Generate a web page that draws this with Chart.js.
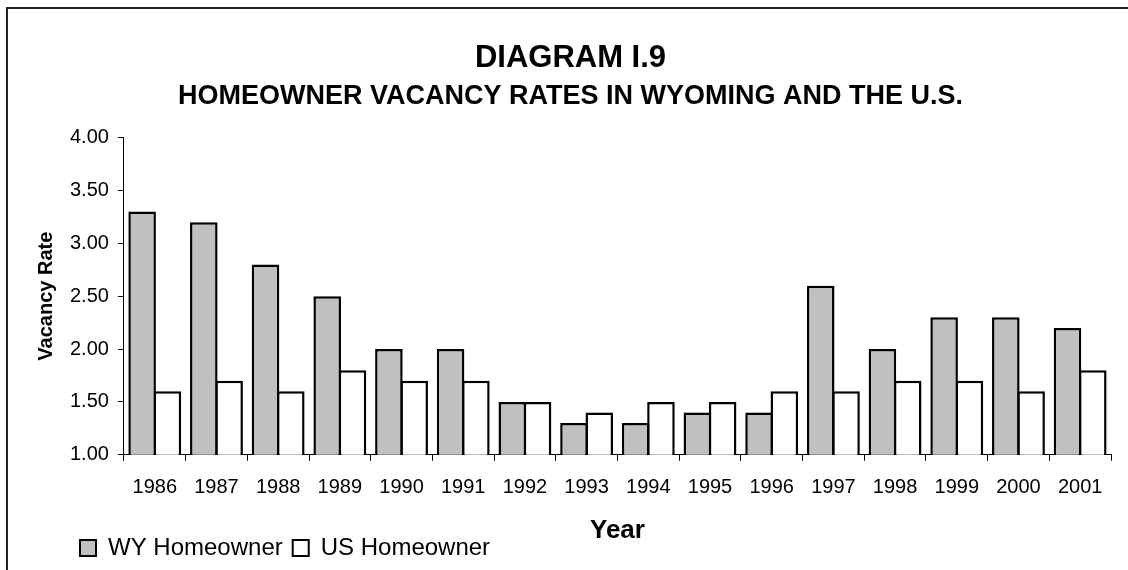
<!DOCTYPE html>
<html>
<head>
<meta charset="utf-8">
<script src="https://cdn.jsdelivr.net/npm/chart.js@4.4.0/dist/chart.umd.min.js"></script>
<style>
  html, body { margin: 0; padding: 0; background: #fff; }
  #wrap { position: relative; width: 1128px; height: 570px; overflow: hidden; }
  #frame { position: absolute; left: 6px; top: 7px; width: 1200px; height: 700px;
           border-top: 2px solid #222; border-left: 2px solid #222; pointer-events: none; }
  canvas { position: absolute; left: 0; top: 0; }
</style>
</head>
<body>
<div id="wrap">
  <canvas id="c" width="1128" height="570"></canvas>
  <div id="frame"></div>
</div>
<script>
const years = ['1986','1987','1988','1989','1990','1991','1992','1993','1994','1995','1996','1997','1998','1999','2000','2001'];
const wyHomeowner = [3.3, 3.2, 2.8, 2.5, 2.0, 2.0, 1.5, 1.3, 1.3, 1.4, 1.4, 2.6, 2.0, 2.3, 2.3, 2.2];
const usHomeowner = [1.6, 1.7, 1.6, 1.8, 1.7, 1.7, 1.5, 1.4, 1.5, 1.5, 1.6, 1.6, 1.7, 1.7, 1.6, 1.8];
const yTicks = [1.0, 1.5, 2.0, 2.5, 3.0, 3.5, 4.0];

const FONT = "'Liberation Sans', Arial, sans-serif";

// move the legend horizontally so it starts under the y-axis tick labels
const legendShift = {
  id: 'legendShift',
  afterLayout(chart) {
    const lg = chart.legend;
    if (lg) { lg.left += 40; lg.right += 40; }
  }
};

new Chart(document.getElementById('c'), {
  type: 'bar',
  data: {
    labels: years,
    datasets: [
      { label: 'WY Homeowner', data: wyHomeowner, backgroundColor: '#c0c0c0', borderColor: '#000', borderWidth: 2.5, borderSkipped: false },
      { label: 'US Homeowner', data: usHomeowner, backgroundColor: '#ffffff', borderColor: '#000', borderWidth: 2.5, borderSkipped: false }
    ]
  },
  options: {
    responsive: false,
    animation: false,
    layout: { padding: { left: 30, right: 17, top: 0, bottom: 0 } },
    datasets: { bar: { categoryPercentage: 0.82, barPercentage: 1.09 } },
    plugins: {
      title: { display: true, text: 'DIAGRAM I.9', color: '#000',
               font: { family: FONT, size: 31, weight: 'bold' }, padding: { top: 40, bottom: 3 } },
      subtitle: { display: true, text: 'HOMEOWNER VACANCY RATES IN WYOMING AND THE U.S.', color: '#000',
               font: { family: FONT, size: 27, weight: 'bold' }, padding: { top: 0, bottom: 25 } },
      legend: { display: true, position: 'bottom', align: 'start',
                labels: { color: '#000', font: { family: FONT, size: 24 }, boxWidth: 16, boxHeight: 16, padding: 10,
                          generateLabels(chart) {
                            return chart.data.datasets.map((d, i) => ({
                              text: d.label, fillStyle: d.backgroundColor, strokeStyle: '#000', lineWidth: 2,
                              hidden: false, datasetIndex: i, fontColor: '#000'
                            }));
                          } } },
      tooltip: { enabled: false }
    },
    scales: {
      x: {
        grid: { display: true, drawOnChartArea: false, drawTicks: true, tickLength: 6, color: '#000', offset: true },
        border: { display: true, color: '#000', width: 1 },
        ticks: { color: '#000', font: { family: FONT, size: 20 }, padding: 15, maxRotation: 0 },
        title: { display: true, text: 'Year', color: '#000', font: { family: FONT, size: 26, weight: 'bold' }, padding: { top: 0, bottom: -20 } }
      },
      y: {
        min: 1, max: 4,
        afterBuildTicks(axis) { axis.ticks = yTicks.map(v => ({ value: v })); },
        grid: { display: true, drawOnChartArea: false, drawTicks: true, tickLength: 6, color: '#000' },
        border: { display: true, color: '#000', width: 1 },
        ticks: { color: '#000', font: { family: FONT, size: 20 }, padding: 9, callback: v => Number(v).toFixed(2) },
        title: { display: true, text: 'Vacancy Rate', color: '#000', font: { family: FONT, size: 20, weight: 'bold' }, padding: { top: 4, bottom: 3 } }
      }
    }
  },
  plugins: [legendShift]
});
</script>
</body>
</html>
